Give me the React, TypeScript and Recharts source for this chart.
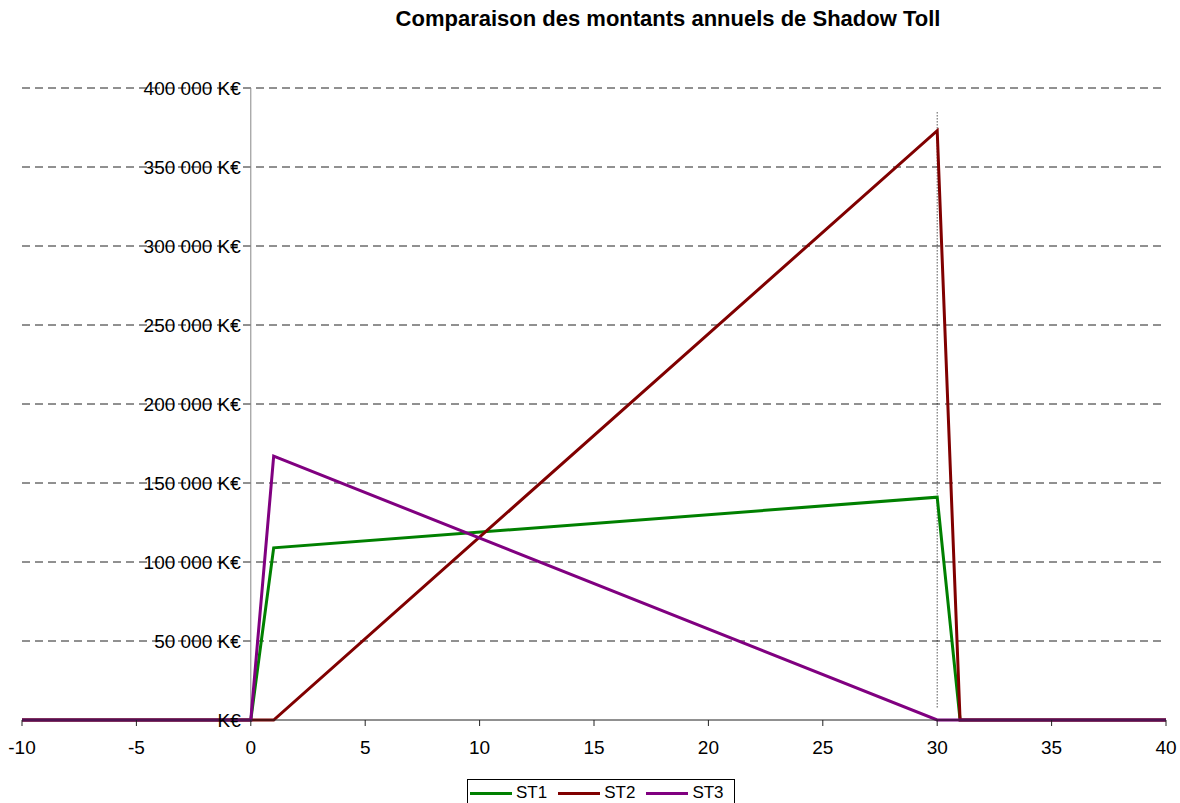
import React from 'react';
import { LineChart, Line, XAxis, YAxis, ReferenceLine, ReferenceDot } from 'recharts';

// année d'exploitation
const years = [-10, 0, 1, 30, 31, 40];
// montants annuels en K€
const st1 = [0, 0, 109000, 141000, 0, 0];
const st2 = [0, 0, 0, 373000, 0, 0];
const st3 = [0, 0, 167000, 0, 0, 0];

const xTicks = [-10, -5, 0, 5, 10, 15, 20, 25, 30, 35, 40];
const yTicks = [0, 50000, 100000, 150000, 200000, 250000, 300000, 350000, 400000];

const FONT = '"Liberation Sans", Arial, sans-serif';

const formatKE = (v: number) => {
    if (v === 0) return 'K€';
    return `${Math.round(v / 1000)} 000 K€`;
};

const series = [
    { key: 'ST1', color: '#008000' },
    { key: 'ST2', color: '#800000' },
    { key: 'ST3', color: '#800080' },
];

const data = years.map((x, i) => ({ x, ST1: st1[i], ST2: st2[i], ST3: st3[i] }));

// legend drawn outside the svg so it does not eat into the plot area
const LegendBox = () => (
    <div style={{ position: 'absolute', left: 467, top: 779, display: 'flex' }}>
        <div
            style={{
                border: '1px solid #000',
                padding: '2px 10px 2px 2px',
                display: 'flex',
                alignItems: 'center',
                fontFamily: FONT,
                fontSize: 17,
                color: '#000',
                background: '#fff',
                height: 22,
            }}
        >
            {series.map((s, i) => (
                <span key={s.key} style={{ display: 'flex', alignItems: 'center', marginLeft: i === 0 ? 0 : 11 }}>
                    <span style={{ display: 'inline-block', width: 42, height: 3, background: s.color, marginRight: 4 }} />
                    {s.key}
                </span>
            ))}
        </div>
    </div>
);

export default function App() {
    return (
        <div style={{ position: 'relative', width: 1180, height: 803, background: '#fff', overflow: 'hidden' }}>
            <style>{`body{margin:0}`}</style>
            <div
                style={{
                    position: 'absolute',
                    left: 668,
                    top: 6,
                    transform: 'translateX(-50%)',
                    whiteSpace: 'nowrap',
                    fontFamily: FONT,
                    fontWeight: 'bold',
                    fontSize: 22,
                    color: '#000',
                }}
            >
                Comparaison des montants annuels de Shadow Toll
            </div>
            <LineChart
                width={1180}
                height={803}
                data={data}
                margin={{ top: 88, right: 14, left: 22, bottom: 53 }}
                style={{ fontFamily: FONT }}
            >
                <XAxis
                    type="number"
                    dataKey="x"
                    domain={[-10, 40]}
                    ticks={xTicks}
                    interval={0}
                    allowDataOverflow
                    height={30}
                    axisLine={{ stroke: '#222' }}
                    tickLine={{ stroke: '#222' }}
                    tickSize={6}
                    tick={{ fill: '#000', fontSize: 19 }}
                    tickMargin={15}
                />
                <YAxis type="number" domain={[0, 400000]} ticks={yTicks} hide />
                {yTicks.filter(v => v > 0).map(v => (
                    <ReferenceLine key={`g${v}`} y={v} stroke="#222" strokeDasharray="8 5" />
                ))}
                <ReferenceLine x={0} stroke="#888" />
                <ReferenceLine
                    segment={[{ x: 30, y: 8000 }, { x: 30, y: 385000 }]}
                    stroke="#000"
                    strokeDasharray="1 2"
                />
                {yTicks.map(v => (
                    <ReferenceDot
                        key={`l${v}`}
                        x={0}
                        y={v}
                        r={0}
                        fill="none"
                        stroke="none"
                        label={{ value: formatKE(v), position: 'left', offset: 10, fill: '#000', fontSize: 19 }}
                    />
                ))}
                {series.map(s => (
                    <Line
                        key={s.key}
                        type="linear"
                        dataKey={s.key}
                        stroke={s.color}
                        strokeWidth={3}
                        dot={false}
                        isAnimationActive={false}
                    />
                ))}
            </LineChart>
            <LegendBox />
        </div>
    );
}
